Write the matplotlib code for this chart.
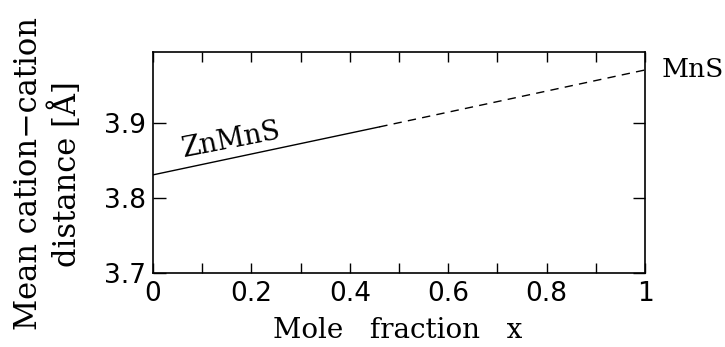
import numpy as np
import matplotlib.pyplot as plt
from matplotlib.ticker import MultipleLocator

# mole fraction and mean cation-cation distance
x_solid = [0.0, 0.46]
d_solid = [3.831, 3.895]
x_dash = [0.46, 1.0]
d_dash = [3.895, 3.971]

xticks = [0, 0.2, 0.4, 0.6, 0.8, 1]
xticklabels = ['0', '0.2', '0.4', '0.6', '0.8', '1']
yticks = [3.7, 3.8, 3.9]

serif = ['DejaVu Serif']
plt.rcParams['font.family'] = ['DejaVu Sans']

W, H = 725, 347
fig = plt.figure(figsize=(W/100, H/100), dpi=100)
ax = fig.add_axes([153/W, 1 - 273/H, (645-153)/W, (273-52)/H])

ax.plot(x_solid, d_solid, color='black', lw=1.0)
ax.plot(x_dash, d_dash, color='black', lw=1.0, dashes=(6, 4.5))

ax.set_xlim(0, 1)
ax.set_ylim(3.7, 3.995)
ax.set_xticks(xticks)
ax.set_xticklabels(xticklabels)
ax.set_yticks(yticks)
ax.xaxis.set_minor_locator(MultipleLocator(0.1))
ax.tick_params(which='both', direction='in', top=True, right=True,
               labelsize=19, width=1.0, length=7)
ax.tick_params(axis='x', pad=6)
ax.tick_params(axis='y', pad=5, length=9)
for s in ax.spines.values():
    s.set_linewidth(1.2)

fig.text(398/W, 1 - 338/H, 'Mole   fraction   x', family=serif, fontsize=20,
         ha='center', va='baseline')
fig.text(48/W, 1 - 174/H, 'Mean cation\u2212cation\ndistance [\u00c5]',
         family=serif, fontsize=22, rotation=90, ha='center', va='center',
         multialignment='center', linespacing=1.2)

ax.text(0.16, 3.877, 'ZnMnS', family=serif, fontsize=19.5, rotation=11,
        ha='center', va='center')
ax.text(1.033, 3.972, 'MnS', family=serif, fontsize=19, ha='left', va='center',
        clip_on=False)

fig.savefig('out.png', dpi=100)
